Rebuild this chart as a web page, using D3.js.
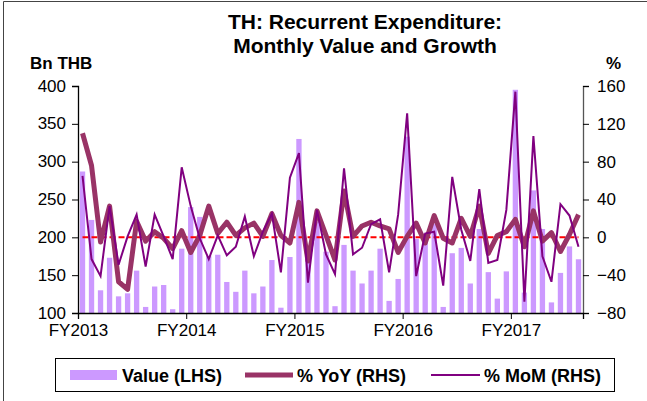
<!DOCTYPE html>
<html lang="en">
<head>
<meta charset="UTF-8">
<title>TH: Recurrent Expenditure</title>
<script src="https://cdnjs.cloudflare.com/ajax/libs/d3/7.8.5/d3.min.js"></script>
<style>
  body { margin: 0; background: #fff; }
  text { font-family: "Liberation Sans", Arial, sans-serif; fill: #000; }
</style>
</head>
<body>
<script>

// monthly categories, Oct 2012 .. May 2017
var months = d3.timeMonths(new Date(2012, 9, 1), new Date(2017, 5, 1));
var fyLabels = ["FY2013", "FY2014", "FY2015", "FY2016", "FY2017"];
var fyStarts = [0, 12, 24, 36, 48];
var leftTicks = [100, 150, 200, 250, 300, 350, 400];
var rightTicks = [-80, -40, 0, 40, 80, 120, 160];

var value = [287, 223, 130, 173, 122, 126, 156, 108, 135, 137, 105, 185,
             240, 227, 175, 177, 141, 128, 156, 126, 135, 170, 107, 174,
             330, 171, 221, 181, 109, 190, 156, 139, 156, 185, 116, 145,
             333, 198, 205, 218, 108, 179, 186, 139, 211, 154, 119, 155,
             395, 127, 262, 211, 114, 153, 188, 171];

var yoy = [110, 76, -5, 33, -47, -55, 17, -4, 6, -1, -12, 7,
           -16, 2, 33, 4, 16, 2, 10, 15, 1, 25, 2, -6,
           37, -25, 28, 2, -24, 49, 1, 12, 16, 12, 9, -16,
           1, 15, -6, 23, -1, -6, 20, 1, 33, -17, 2, 6,
           19, -10, 28, -4, 5, -15, 3, 24];

var mom = [65, -23, -41, 33, -29, 1, 24, -31, 24, 1, -23, 74,
           33, -1, -23, 2, -19, -10, 22, -20, 6, 25, -37, 63,
           89, -48, 29, -18, -39, 73, -18, -11, 14, 19, -37, 24,
           131, -41, 4, 6, -51, 64, 8, -25, 51, -27, -24, 29,
           154, -68, 107, -20, -47, 35, 23, -10];

var width = 647, height = 401;
var plot = {left: 78, right: 583, top: 86, bottom: 313};

var svg = d3.select("body").append("svg")
    .attr("width", width)
    .attr("height", height);

// frame
svg.append("path")
    .attr("d", "M3.5,401V1.5H647")
    .attr("fill", "none")
    .attr("stroke", "#444")
    .attr("stroke-width", 1);

var x = d3.scaleBand()
    .domain(d3.range(months.length))
    .range([plot.left, plot.right])
    .paddingInner(0.41)
    .paddingOuter(0.205);

var xMonth = d3.scaleLinear()
    .domain([0, months.length])
    .range([plot.left, plot.right]);

var yL = d3.scaleLinear().domain([100, 400]).range([plot.bottom, plot.top]);
var yR = d3.scaleLinear().domain([-80, 160]).range([plot.bottom, plot.top]);

var cx = function(d, i) { return x(i) + x.bandwidth() / 2; };

// bars
svg.append("g").selectAll("rect")
    .data(value)
    .enter()
    .append("rect")
    .attr("x", function(d, i) { return x(i); })
    .attr("width", x.bandwidth())
    .attr("y", function(d) { return yL(d); })
    .attr("height", function(d) { return plot.bottom - yL(d); })
    .attr("fill", "#CC99FF");

// zero line on RHS
svg.append("line")
    .attr("x1", cx(0, 0))
    .attr("x2", cx(0, months.length - 1))
    .attr("y1", yR(0))
    .attr("y2", yR(0))
    .attr("stroke", "#FF0000")
    .attr("stroke-width", 2)
    .attr("stroke-dasharray", "6,3");

var line = d3.line()
    .x(cx)
    .y(function(d) { return yR(d); });

svg.append("path")
    .datum(yoy)
    .attr("d", line)
    .attr("fill", "none")
    .attr("stroke", "#993366")
    .attr("stroke-width", 5)
    .attr("stroke-linejoin", "round");

svg.append("path")
    .datum(mom)
    .attr("d", line)
    .attr("fill", "none")
    .attr("stroke", "#800080")
    .attr("stroke-width", 2);

// axes
var axL = svg.append("g")
    .attr("transform", "translate(" + plot.left + ",0)")
    .call(d3.axisLeft(yL).tickValues(leftTicks).tickSize(6).tickPadding(6));

var axR = svg.append("g")
    .attr("transform", "translate(" + plot.right + ",0)")
    .call(d3.axisRight(yR).tickValues(rightTicks).tickSize(6).tickPadding(8));

var axB = svg.append("g")
    .attr("transform", "translate(0," + plot.bottom + ")")
    .call(d3.axisBottom(xMonth).tickValues(fyStarts)
      .tickFormat(function(d, i) { return fyLabels[i]; })
      .tickSize(6).tickPadding(5));

[axL, axR, axB].forEach(function(ax) {
  ax.selectAll("path").attr("stroke", "#000").attr("stroke-width", 1.3);
  ax.selectAll("line").attr("stroke", "#000");
  ax.selectAll("text")
    .style("font-family", "'Liberation Sans', Arial, sans-serif")
    .style("font-size", "17px")
    .attr("fill", "#000");
});
axR.select("path").attr("stroke", "#555");
axL.selectAll("text").attr("dy", "0.3em");

// titles
svg.append("text")
    .attr("x", 365).attr("y", 29)
    .attr("text-anchor", "middle")
    .style("font-size", "21px").style("font-weight", "bold")
    .text("TH: Recurrent Expenditure:");
svg.append("text")
    .attr("x", 365).attr("y", 53)
    .attr("text-anchor", "middle")
    .style("font-size", "21px").style("font-weight", "bold")
    .text("Monthly Value and Growth");

svg.append("text")
    .attr("x", 30).attr("y", 69)
    .style("font-size", "17px").style("font-weight", "bold")
    .text("Bn THB");
svg.append("text")
    .attr("x", 621).attr("y", 69)
    .attr("text-anchor", "end")
    .style("font-size", "17px").style("font-weight", "bold")
    .text("%");

// legend
var lg = svg.append("g");
lg.append("rect")
    .attr("x", 55.5).attr("y", 358.5)
    .attr("width", 559).attr("height", 33)
    .attr("fill", "#fff").attr("stroke", "#000");

lg.append("rect")
    .attr("x", 70).attr("y", 370)
    .attr("width", 47).attr("height", 10)
    .attr("fill", "#CC99FF");
lg.append("text").attr("x", 122).attr("y", 382)
    .style("font-size", "18px").style("font-weight", "bold")
    .text("Value (LHS)");

lg.append("line")
    .attr("x1", 245).attr("x2", 293).attr("y1", 375).attr("y2", 375)
    .attr("stroke", "#993366").attr("stroke-width", 5);
lg.append("text").attr("x", 297).attr("y", 382)
    .style("font-size", "18px").style("font-weight", "bold")
    .text("% YoY (RHS)");

lg.append("line")
    .attr("x1", 431).attr("x2", 480).attr("y1", 375).attr("y2", 375)
    .attr("stroke", "#800080").attr("stroke-width", 2);
lg.append("text").attr("x", 484).attr("y", 382)
    .style("font-size", "18px").style("font-weight", "bold")
    .text("% MoM (RHS)");

</script>
</body>
</html>
